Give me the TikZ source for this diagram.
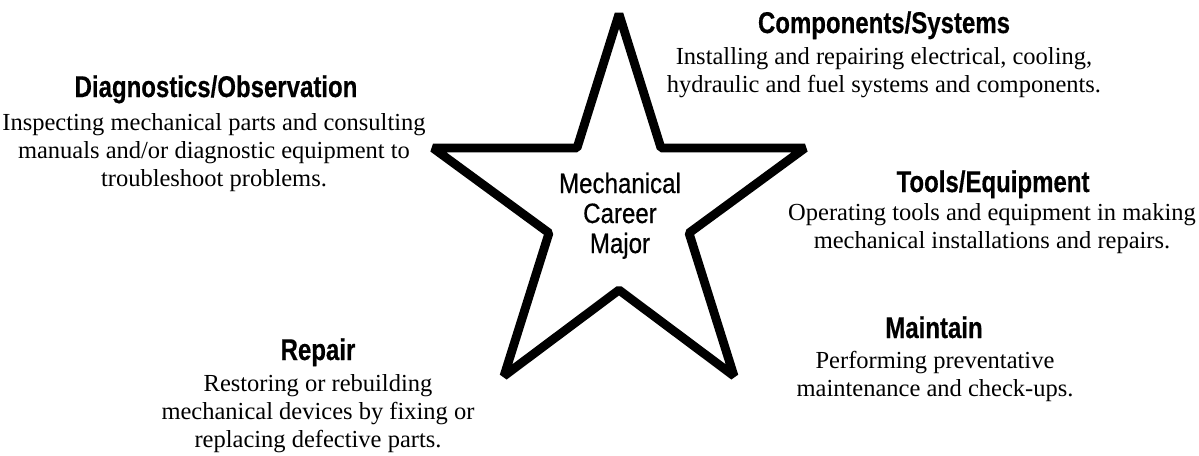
\documentclass[tikz,border=0pt]{standalone}
\usepackage{fontspec}
\setmainfont{Liberation Serif}
\newfontfamily\headfont[FakeStretch=0.8,FakeBold=0.4]{Liberation Sans}
\newfontfamily\corefont[FakeStretch=0.86,FakeBold=0.6]{Liberation Sans}
\begin{document}
\begin{tikzpicture}[x=0.5pt,y=-0.5pt,
  head/.style={anchor=base,font=\headfont\bfseries\fontsize{15}{15}\selectfont},
  body/.style={anchor=base,align=center,font=\fontsize{12.25}{14}\selectfont},
  core/.style={anchor=base,align=center,font=\corefont\fontsize{14}{15}\selectfont}]
\useasboundingbox (0,0) rectangle (1199,455);
% the star
\draw[line width=4.4pt,line join=bevel] (619,14)--(661,148)--(805,148)--(689,233)--(734,376)--(619,290)
  --(504,376)--(549,233)--(433,148)--(577,148)--cycle;
% base of a stacked node is its last line
\node[core] (major) at (620,253) {Mechanical\\Career\\Major};
% top right
\node[head] (comp) at (884,33) {Components/Systems};
\node[body] (comptxt) at (884,92) {Installing and repairing electrical, cooling,\\hydraulic and fuel systems and components.};
% left
\node[head] (diag) at (216,97) {Diagnostics/Observation};
\node[body] (diagtxt) at (214,186) {Inspecting mechanical parts and consulting\\manuals and/or diagnostic equipment to\\troubleshoot problems.};
% right
\node[head] (tools) at (993,192) {Tools/Equipment};
\node[body] (toolstxt) at (992,248) {Operating tools and equipment in making\\mechanical installations and repairs.};
% bottom right
\node[head] (maint) at (934,338) {Maintain};
\node[body] (mainttxt) at (935,396) {Performing preventative\\maintenance and check-ups.};
% bottom left
\node[head] (rep) at (318,360) {Repair};
\node[body] (reptxt) at (318,447) {Restoring or rebuilding\\mechanical devices by fixing or\\replacing defective parts.};
\end{tikzpicture}
\end{document}
